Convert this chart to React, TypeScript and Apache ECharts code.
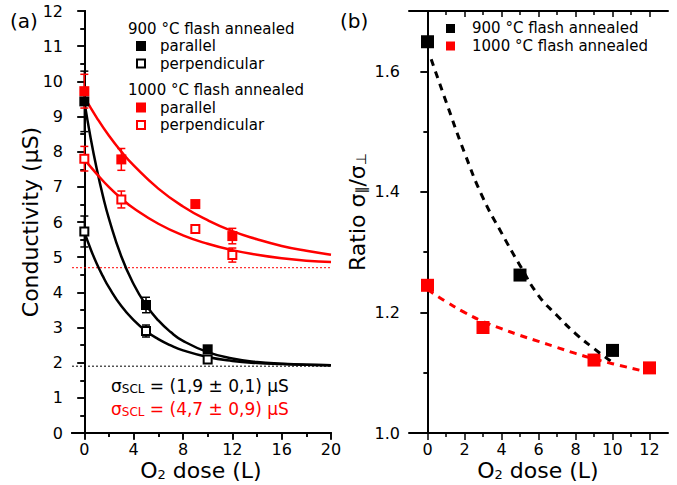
import React, { useEffect, useRef } from 'react';
import * as echarts from 'echarts';

const FONT = 'DejaVu Sans';
const BLACK = '#000000';
const RED = '#ff0000';

// ---------- Panel (a): conductivity ----------
const dose900 = [0, 5, 10];
const par900 = [9.43, 3.64, 2.38];
const par900Err = [0.86, 0.22, 0.1];
const perp900 = [5.73, 2.9, 2.09];
const perp900Err = [0.44, 0.17, 0.08];

const dose1000 = [0, 3, 9, 12];
const par1000 = [9.72, 7.78, 6.51, 5.6];
const par1000Err = [0.48, 0.31, 0.06, 0.22];
const perp1000 = [7.8, 6.64, 5.8, 5.06];
const perp1000Err = [0.35, 0.24, 0.08, 0.2];

// fitted curves
const fitDose900 = [0, 0.5, 1, 1.5, 2, 3, 4, 5, 6, 7, 8, 10, 12, 14, 16, 18, 20];
const fitPar900 = [9.43, 8.41, 7.52, 6.75, 6.09, 5.02, 4.23, 3.64, 3.2, 2.87, 2.62, 2.3, 2.12, 2.02, 1.97, 1.94, 1.93];
const fitPerp900 = [5.72, 5.24, 4.82, 4.46, 4.14, 3.61, 3.21, 2.9, 2.67, 2.49, 2.35, 2.16, 2.05, 1.99, 1.96, 1.94, 1.93];
const fitDose1000 = [0, 1, 2, 3, 4, 6, 8, 10, 12, 14, 16, 18, 20];
const fitPar1000 = [9.55, 8.97, 8.45, 8.0, 7.61, 6.95, 6.44, 6.05, 5.74, 5.51, 5.32, 5.18, 5.07];
const fitPerp1000 = [7.78, 7.37, 6.99, 6.67, 6.39, 5.95, 5.62, 5.38, 5.2, 5.07, 4.97, 4.9, 4.86];

const sigmaSCL900 = 1.9;
const sigmaSCL1000 = 4.7;

const ticksA_X = [0, 4, 8, 12, 16, 20];
const minorA_X = [2, 6, 10, 14, 18];
const ticksA_Y = [0, 1, 2, 3, 4, 5, 6, 7, 8, 9, 10, 11, 12];
const minorA_Y = [0.5, 1.5, 2.5, 3.5, 4.5, 5.5, 6.5, 7.5, 8.5, 9.5, 10.5, 11.5];

// ---------- Panel (b): ratio ----------
const ratioDose900 = [0, 5, 10];
const ratio900 = [1.649, 1.262, 1.137];
const ratioDose1000 = [0, 3, 9, 12];
const ratio1000 = [1.245, 1.175, 1.121, 1.108];

const fitRatioDose900 = [0.2, 1, 2, 3, 4, 5, 6, 7, 8, 9, 10];
const fitRatio900 = [1.62, 1.55, 1.465, 1.39, 1.332, 1.278, 1.228, 1.195, 1.165, 1.14, 1.117];
const fitRatioDose1000 = [0, 1, 2, 3, 4, 5, 6, 7, 8, 9, 10, 11.5];
const fitRatio1000 = [1.238, 1.218, 1.2, 1.185, 1.173, 1.162, 1.152, 1.142, 1.132, 1.123, 1.115, 1.104];

const ticksB_X = [0, 2, 4, 6, 8, 10, 12];
const minorB_X = [1, 3, 5, 7, 9, 11];
const ticksB_Y = [1.0, 1.2, 1.4, 1.6];
const minorB_Y = [1.1, 1.3, 1.5];

const pairs = (xs: number[], ys: number[]) => xs.map((x, i) => [x, ys[i]]);

function xAxesFor(grid: number, min: number, max: number, major: number[], minor: number[]) {
  const base = { type: 'value', gridIndex: grid, min, max, splitLine: { show: false } };
  const line = { show: true, lineStyle: { color: BLACK, width: 2 } };
  const tickStyle = { color: BLACK, width: 1.5 };
  return [
    { ...base, position: 'bottom', axisLine: line,
      axisTick: { show: true, inside: false, length: 7, lineStyle: tickStyle, customValues: major },
      axisLabel: { show: true, customValues: major, fontSize: 16, color: BLACK, fontFamily: FONT, margin: 8 } },
    { ...base, position: 'bottom', axisLine: { show: false },
      axisTick: { show: true, inside: false, length: 4, lineStyle: tickStyle, customValues: minor },
      axisLabel: { show: false } },
    { ...base, position: 'top', axisLine: line,
      axisTick: { show: true, inside: true, length: 6, lineStyle: tickStyle, customValues: major },
      axisLabel: { show: false } },
    { ...base, position: 'top', axisLine: { show: false },
      axisTick: { show: true, inside: true, length: 4, lineStyle: tickStyle, customValues: minor },
      axisLabel: { show: false } },
  ];
}

function yAxesFor(grid: number, min: number, max: number, major: number[], minor: number[], fmt?: (v: number) => string) {
  const base = { type: 'value', gridIndex: grid, min, max, splitLine: { show: false } };
  const line = { show: true, lineStyle: { color: BLACK, width: 2 } };
  const tickStyle = { color: BLACK, width: 1.5 };
  return [
    { ...base, position: 'left', axisLine: line,
      axisTick: { show: true, inside: false, length: 7, lineStyle: tickStyle, customValues: major },
      axisLabel: { show: true, customValues: major, fontSize: 16, color: BLACK, fontFamily: FONT, margin: 9,
        formatter: fmt ? (v: number) => fmt(v) : undefined } },
    { ...base, position: 'left', axisLine: { show: false },
      axisTick: { show: true, inside: false, length: 4, lineStyle: tickStyle, customValues: minor },
      axisLabel: { show: false } },
    { ...base, position: 'right', axisLine: line,
      axisTick: { show: true, inside: true, length: 7, lineStyle: tickStyle, customValues: major },
      axisLabel: { show: false } },
    { ...base, position: 'right', axisLine: { show: false },
      axisTick: { show: true, inside: true, length: 4, lineStyle: tickStyle, customValues: minor },
      axisLabel: { show: false } },
  ];
}

function errorSeries(xs: number[], ys: number[], es: number[], color: string) {
  return {
    type: 'custom',
    xAxisIndex: 0,
    yAxisIndex: 0,
    silent: true,
    z: 3,
    data: xs.map((x, i) => [x, ys[i], es[i]]),
    renderItem: (_params: any, api: any) => {
      const x = api.value(0);
      const y = api.value(1);
      const e = api.value(2);
      const top = api.coord([x, y + e]);
      const bot = api.coord([x, y - e]);
      const hw = 4;
      const style = { stroke: color, lineWidth: 1.5 };
      return {
        type: 'group',
        children: [
          { type: 'line', shape: { x1: top[0], y1: top[1], x2: bot[0], y2: bot[1] }, style },
          { type: 'line', shape: { x1: top[0] - hw, y1: top[1], x2: top[0] + hw, y2: top[1] }, style },
          { type: 'line', shape: { x1: bot[0] - hw, y1: bot[1], x2: bot[0] + hw, y2: bot[1] }, style },
        ],
      };
    },
  };
}

function curve(xs: number[], ys: number[], color: string, xi: number, yi: number, dashed = false) {
  return {
    type: 'line',
    xAxisIndex: xi,
    yAxisIndex: yi,
    data: pairs(xs, ys),
    smooth: true,
    showSymbol: false,
    silent: true,
    z: 2,
    lineStyle: dashed
      ? { color, width: 3, type: [7, 6] }
      : { color, width: 2.5 },
  };
}

function filledSquares(xs: number[], ys: number[], color: string, xi: number, yi: number, size: number) {
  return {
    type: 'scatter', xAxisIndex: xi, yAxisIndex: yi, data: pairs(xs, ys), symbol: 'rect', symbolSize: size,
    itemStyle: { color, opacity: 1 }, z: 4, silent: true,
  };
}

function openSquares(xs: number[], ys: number[], color: string) {
  return {
    type: 'scatter', xAxisIndex: 0, yAxisIndex: 0, data: pairs(xs, ys), symbol: 'rect', symbolSize: 8,
    itemStyle: { color: '#ffffff', borderColor: color, borderWidth: 2, opacity: 1 }, z: 4, silent: true,
  };
}

function hLine(y: number, color: string) {
  return {
    type: 'line', xAxisIndex: 0, yAxisIndex: 0, data: [[-1, y], [20, y]], showSymbol: false, silent: true, z: 1,
    lineStyle: { color, width: 1, type: [2, 2] },
  };
}

function txt(x: number, y: number, text: string, color: string, size: number) {
  return {
    type: 'text', x, y, silent: true,
    style: { text, fill: color, fontSize: size, fontFamily: FONT,
      align: 'left', verticalAlign: 'middle', textAlign: 'left', textVerticalAlign: 'middle' },
  };
}

function richTitle(x: number, y: number, text: string, size: number, sub: number, color: string, rotation = 0, align = 'center') {
  return {
    type: 'text', x, y, rotation, silent: true,
    style: {
      text, fill: color, fontFamily: FONT, fontSize: size,
      align, verticalAlign: 'middle', textAlign: align, textVerticalAlign: 'middle',
      rich: {
        n: { fontSize: size, fontFamily: FONT, fill: color, color, lineHeight: size, verticalAlign: 'middle' },
        s: { fontSize: sub, fontFamily: FONT, fill: color, color, lineHeight: sub, verticalAlign: 'bottom' },
      },
    },
  };
}

const LF = 15; // legend font size

export default function App() {
  const ref = useRef<HTMLDivElement>(null);
  useEffect(() => {
    if (!ref.current) return;
    const chart = echarts.init(ref.current, undefined, { renderer: 'svg' });
    const option: any = {
      animation: false,
      backgroundColor: '#ffffff',
      textStyle: { fontFamily: FONT },
      grid: [
        { left: 72, top: 11, width: 259, height: 422 },
        { left: 409, top: 11, width: 259, height: 422 },
      ],
      xAxis: [
        ...xAxesFor(0, -1, 20, ticksA_X, minorA_X),
        ...xAxesFor(1, -1, 13, ticksB_X, minorB_X),
      ],
      yAxis: [
        ...yAxesFor(0, 0, 12, ticksA_Y, minorA_Y),
        ...yAxesFor(1, 1.0, 1.7, ticksB_Y, minorB_Y, (v: number) => v.toFixed(1)),
      ],
      series: [
        hLine(sigmaSCL900, BLACK),
        hLine(sigmaSCL1000, RED),
        curve(fitDose900, fitPar900, BLACK, 0, 0),
        curve(fitDose900, fitPerp900, BLACK, 0, 0),
        curve(fitDose1000, fitPar1000, RED, 0, 0),
        curve(fitDose1000, fitPerp1000, RED, 0, 0),
        errorSeries(dose900, par900, par900Err, BLACK),
        errorSeries(dose900, perp900, perp900Err, BLACK),
        errorSeries(dose1000, par1000, par1000Err, RED),
        errorSeries(dose1000, perp1000, perp1000Err, RED),
        filledSquares(dose900, par900, BLACK, 0, 0, 10),
        openSquares(dose900, perp900, BLACK),
        filledSquares(dose1000, par1000, RED, 0, 0, 10),
        openSquares(dose1000, perp1000, RED),
        // panel (b)
        filledSquares(ratioDose900, ratio900, BLACK, 4, 4, 13),
        filledSquares(ratioDose1000, ratio1000, RED, 4, 4, 13),
        { ...curve(fitRatioDose900, fitRatio900, BLACK, 4, 4, true), z: 5 },
        { ...curve(fitRatioDose1000, fitRatio1000, RED, 4, 4, true), z: 5 },
      ],
      graphic: [
        // panel labels
        txt(10, 21, '(a)', BLACK, 20),
        txt(340, 21, '(b)', BLACK, 20),
        // legend (a)
        txt(128, 28.5, '900 °C flash annealed', BLACK, LF),
        { type: 'rect', silent: true, shape: { x: 136, y: 41, width: 10, height: 10 }, style: { fill: BLACK } },
        txt(160, 46, 'parallel', BLACK, LF),
        { type: 'rect', silent: true, shape: { x: 137, y: 59.5, width: 8, height: 8 }, style: { fill: '#fff', stroke: BLACK, lineWidth: 2 } },
        txt(160, 63.5, 'perpendicular', BLACK, LF),
        txt(128, 90, '1000 °C flash annealed', BLACK, LF),
        { type: 'rect', silent: true, shape: { x: 136, y: 102.5, width: 10, height: 10 }, style: { fill: RED } },
        txt(160, 107.5, 'parallel', BLACK, LF),
        { type: 'rect', silent: true, shape: { x: 137, y: 121, width: 8, height: 8 }, style: { fill: '#fff', stroke: RED, lineWidth: 2 } },
        txt(160, 125, 'perpendicular', BLACK, LF),
        // sigma SCL annotations
        richTitle(111, 386, '{n|σ}{s|SCL}{n| = (1,9 ± 0,1) µS}', 17, 12, BLACK, 0, 'left'),
        richTitle(111, 409, '{n|σ}{s|SCL}{n| = (4,7 ± 0,9) µS}', 17, 12, RED, 0, 'left'),
        // legend (b)
        { type: 'rect', silent: true, shape: { x: 446, y: 24, width: 9, height: 9 }, style: { fill: BLACK } },
        txt(472, 28, '900 °C flash annealed', BLACK, LF),
        { type: 'rect', silent: true, shape: { x: 446, y: 41.5, width: 9, height: 9 }, style: { fill: RED } },
        txt(472, 45.5, '1000 °C flash annealed', BLACK, LF),
        // axis titles
        richTitle(201, 470, '{n|O}{s|2}{n| dose (L)}', 22, 13, BLACK),
        richTitle(538, 470, '{n|O}{s|2}{n| dose (L)}', 22, 13, BLACK),
        richTitle(30, 222, '{n|Conductivity (µS)}', 22, 13, BLACK, Math.PI / 2),
        richTitle(357, 212, '{n|Ratio σ}{s|∥}{n|/σ}{s|⊥}', 22, 14, BLACK, Math.PI / 2),
      ],
    };
    chart.setOption(option);
    return () => chart.dispose();
  }, []);
  return (
    <div
      ref={ref}
      style={{ position: 'absolute', left: 0, top: 0, width: 677, height: 485, background: '#fff' }}
    />
  );
}
